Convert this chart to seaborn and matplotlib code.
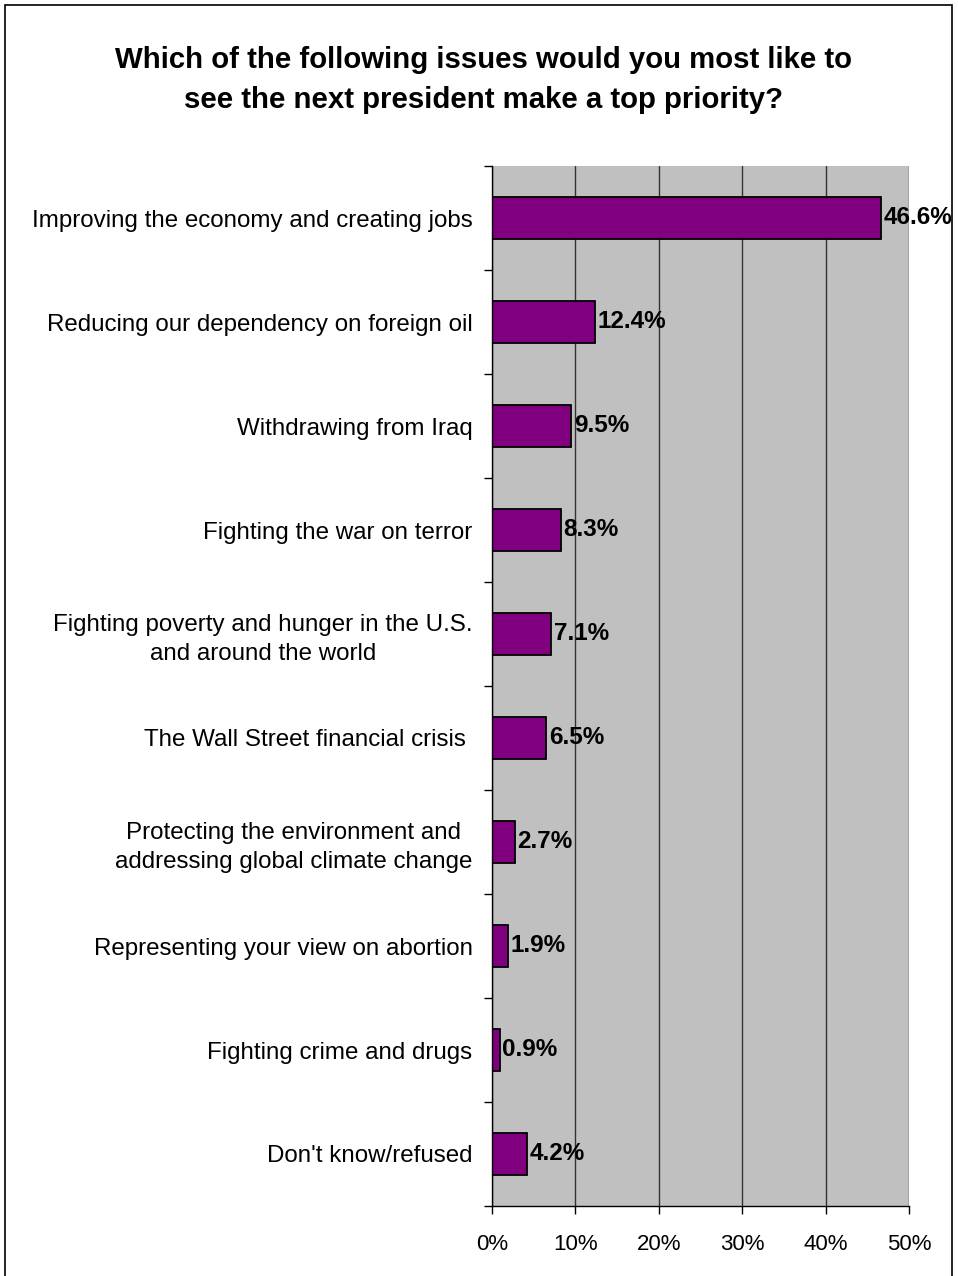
import matplotlib
matplotlib.use("Agg")
import matplotlib.pyplot as plt
from matplotlib.patches import Rectangle
from matplotlib.ticker import FixedLocator, PercentFormatter
import seaborn as sns
import pandas as pd

issues = [
    "Improving the economy and creating jobs",
    "Reducing our dependency on foreign oil",
    "Withdrawing from Iraq",
    "Fighting the war on terror",
    "Fighting poverty and hunger in the U.S.\nand around the world",
    "The Wall Street financial crisis ",
    "Protecting the environment and\naddressing global climate change",
    "Representing your view on abortion",
    "Fighting crime and drugs",
    "Don't know/refused",
]
shares = [46.6, 12.4, 9.5, 8.3, 7.1, 6.5, 2.7, 1.9, 0.9, 4.2]
x_ticks = [0, 10, 20, 30, 40, 50]

df = pd.DataFrame({"issue": issues, "share": shares})

sns.set_style("white")
plt.rcParams["font.family"] = ["Liberation Sans", "DejaVu Sans"]
plt.rcParams["text.color"] = "black"
plt.rcParams["xtick.color"] = "black"
plt.rcParams["ytick.color"] = "black"
plt.rcParams["xtick.labelcolor"] = "black"
plt.rcParams["ytick.labelcolor"] = "black"

fig = plt.figure(figsize=(9.58, 12.76), dpi=100)
ax = fig.add_axes([492 / 958, 70 / 1276, (909 - 492) / 958, (1206 - 166) / 1276])

ax.set_facecolor("#C0C0C0")
sns.barplot(data=df, x="share", y="issue", order=issues, orient="h",
            color="#800080", edgecolor="black", linewidth=1.3, width=0.4,
            saturation=1, ax=ax)

ax.set_xlim(0, 50)
ax.set_ylim(len(issues) - 0.5, -0.5)
ax.xaxis.set_major_locator(FixedLocator(x_ticks))
ax.xaxis.set_major_formatter(PercentFormatter(decimals=0))
ax.set_axisbelow(True)
ax.grid(axis="x", color="#333333", linewidth=1.0)
ax.grid(axis="y", visible=False)

ax.set_xlabel("")
ax.set_ylabel("")

for s in ["top", "right"]:
    ax.spines[s].set_visible(False)
for s in ["left", "bottom"]:
    ax.spines[s].set_color("black")
    ax.spines[s].set_linewidth(1.0)

ax.tick_params(axis="x", labelsize=16, length=6, width=1, direction="out",
               bottom=True, pad=14)
ax.tick_params(axis="y", which="major", length=0, labelsize=17.4, pad=14)
ax.yaxis.set_minor_locator(FixedLocator([i + 0.5 for i in range(-1, len(issues))]))
ax.tick_params(axis="y", which="minor", length=6, width=1, direction="out",
               left=True)
for lbl in ax.get_yticklabels():
    lbl.set_multialignment("center")
    lbl.set_linespacing(1.4)

for i, v in enumerate(shares):
    ax.text(v + 0.3, i, f"{v:.1f}%", va="center", ha="left",
            fontsize=17.5, fontweight="bold", color="black", clip_on=False)

fig.text(484 / 958, 1 - 80 / 1276,
         "Which of the following issues would you most like to\n"
         "see the next president make a top priority?",
         ha="center", va="center", fontsize=21.2, fontweight="bold",
         linespacing=1.5)

fig.patches.append(Rectangle((5 / 958, -0.01), (952 - 5) / 958, 1.01 - 5 / 1276,
                             transform=fig.transFigure, fill=False,
                             edgecolor="black", linewidth=1.2))

fig.savefig("out.png", dpi=100, facecolor="white")
